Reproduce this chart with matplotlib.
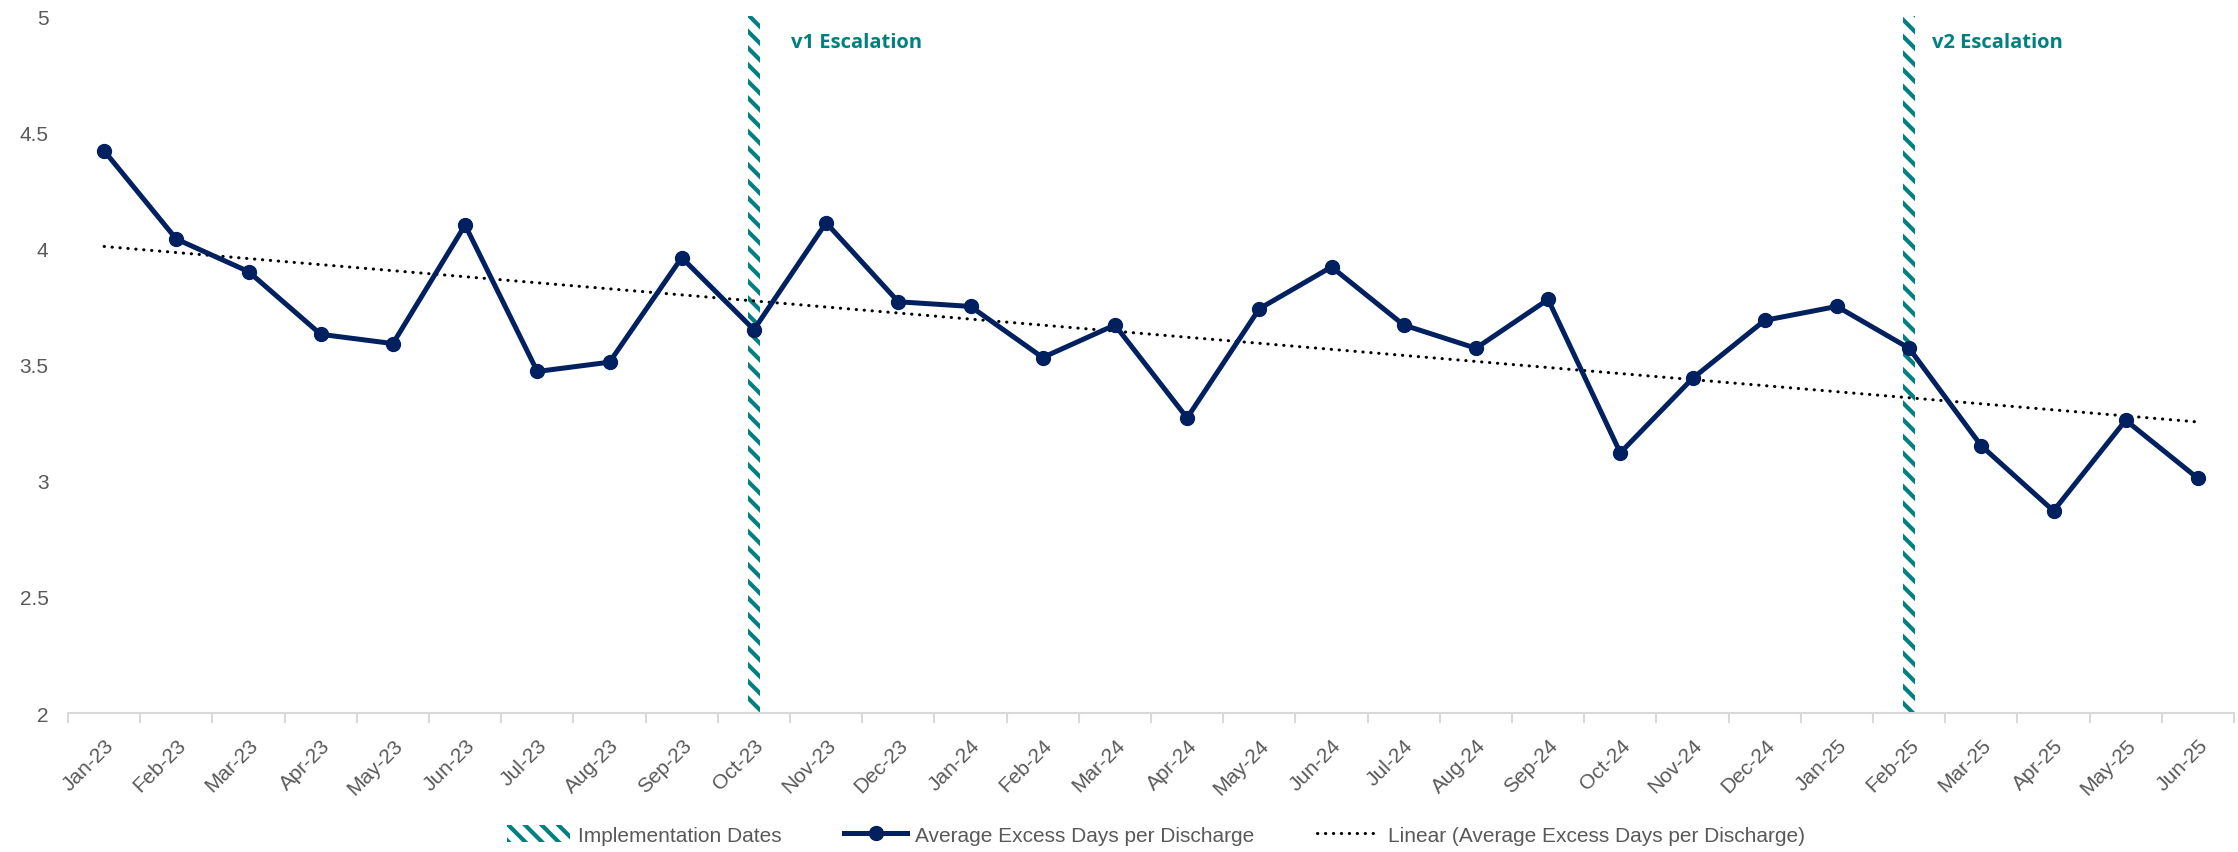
import numpy as np
import matplotlib
matplotlib.use("Agg")
import matplotlib.pyplot as plt
from matplotlib.patches import Patch
from matplotlib.lines import Line2D

months = ["Jan-23", "Feb-23", "Mar-23", "Apr-23", "May-23", "Jun-23", "Jul-23", "Aug-23",
          "Sep-23", "Oct-23", "Nov-23", "Dec-23", "Jan-24", "Feb-24", "Mar-24", "Apr-24",
          "May-24", "Jun-24", "Jul-24", "Aug-24", "Sep-24", "Oct-24", "Nov-24", "Dec-24",
          "Jan-25", "Feb-25", "Mar-25", "Apr-25", "May-25", "Jun-25"]
excess_days = [4.42, 4.04, 3.90, 3.63, 3.59, 4.10, 3.47, 3.51, 3.96, 3.65,
               4.11, 3.77, 3.75, 3.53, 3.67, 3.27, 3.74, 3.92, 3.67, 3.57,
               3.78, 3.12, 3.44, 3.69, 3.75, 3.57, 3.15, 2.87, 3.26, 3.01]
implementation_months = ["Oct-23", "Feb-25"]
implementation_labels = ["v1 Escalation", "v2 Escalation"]
y_ticks = [2, 2.5, 3, 3.5, 4, 4.5, 5]

NAVY = "#002060"
TEAL = "#008080"
GREY_TXT = "#595959"
AXIS_GREY = "#D9D9D9"

plt.rcParams["font.family"] = ["Liberation Sans", "DejaVu Sans"]
plt.rcParams["hatch.linewidth"] = 3.0
plt.rcParams["hatch.color"] = TEAL

fig = plt.figure(figsize=(22.38, 8.53), dpi=100)
ax = fig.add_axes([68 / 2238, 1 - 714 / 853, (2234 - 68) / 2238, (714 - 17) / 853])

x = np.arange(len(months))
y = np.array(excess_days)

# implementation markers drawn as narrow hatched columns spanning the value range
imp_idx = [months.index(m) for m in implementation_months]
ax.bar(imp_idx, [y_ticks[-1] - y_ticks[0]] * len(imp_idx), bottom=y_ticks[0], width=0.17,
       facecolor="white", edgecolor=TEAL, linewidth=0, hatch="\\\\", zorder=1)

# monthly series
ax.plot(x, y, color=NAVY, linewidth=3.6, marker="o", markersize=10,
        markerfacecolor=NAVY, markeredgecolor=NAVY, zorder=3)

# linear trend fitted to the monthly series
slope, intercept = np.polyfit(x, y, 1)
ax.plot(x, slope * x + intercept, color="black", linewidth=2.2,
        linestyle=(0, (0.1, 2.5)), dash_capstyle="round", zorder=2)

offsets = [37, 23]
for idx, lab, off in zip(imp_idx, implementation_labels, offsets):
    ax.annotate(lab, xy=(idx, 4.888), xytext=(off, 0), textcoords="offset pixels",
                ha="left", va="center", color=TEAL, fontsize=14.5, fontweight="bold",
                family=["Open Sans", "DejaVu Sans"])

ax.set_xlim(-0.5, len(months) - 0.5)
ax.set_ylim(y_ticks[0], y_ticks[-1])
ax.set_yticks(y_ticks)
ax.set_yticklabels([f"{v:g}" for v in y_ticks])
ax.set_xticks(x)
ax.set_xticklabels(months, rotation=45, ha="right", rotation_mode="anchor")
ax.set_xticks(np.arange(-0.5, len(months)), minor=True)

ax.tick_params(axis="y", length=0, pad=14, labelsize=15, labelcolor=GREY_TXT)
ax.tick_params(axis="x", which="major", length=0, pad=16, labelsize=15, labelcolor=GREY_TXT)
ax.tick_params(axis="x", which="minor", length=7, width=1.5, color=AXIS_GREY)

for side in ["left", "right", "top"]:
    ax.spines[side].set_visible(False)
ax.spines["bottom"].set_color(AXIS_GREY)
ax.spines["bottom"].set_linewidth(1.5)

handles = [
    Patch(facecolor="white", edgecolor=TEAL, linewidth=0, hatch="\\\\"),
    Line2D([], [], color=NAVY, linewidth=3.6, marker="o", markersize=10),
    Line2D([], [], color="black", linewidth=2.2, linestyle=(0, (0.1, 2.5)), dash_capstyle="round"),
]
labels = ["Implementation Dates", "Average Excess Days per Discharge",
          "Linear (Average Excess Days per Discharge)"]
fig.legend(handles, labels, loc="center", bbox_to_anchor=(1156 / 2238, 1 - 836 / 853),
           ncol=3, frameon=False, fontsize=15, labelcolor=GREY_TXT, handlelength=3.0,
           handleheight=0.9, columnspacing=3.0, handletextpad=0.4, borderpad=0)

fig.savefig("out.png", dpi=100, facecolor="white")
